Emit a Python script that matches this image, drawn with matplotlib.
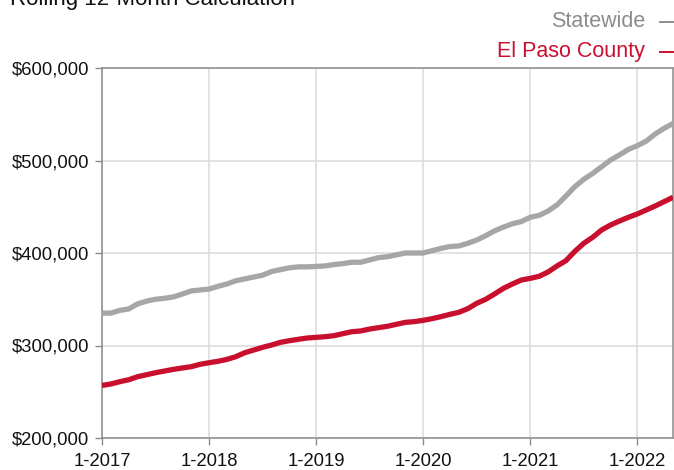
import matplotlib
matplotlib.use("Agg")
import matplotlib.pyplot as plt
from matplotlib.lines import Line2D
import numpy as np

plt.rcParams['font.family'] = ['Liberation Sans', 'DejaVu Sans']

# Monthly data, Jan 2017 .. May 2022 (rolling 12-month median sales price)
statewide = [335, 335, 338, 339.5, 345, 348, 350, 351, 352.5, 355.6, 359, 360,
             361, 364, 366.5, 370, 372, 374, 376, 380, 382, 384, 385, 385,
             385.5, 386, 387.5, 388.5, 390, 390, 392.5, 395, 396, 398, 400, 400,
             400, 402.5, 405, 407, 407.6, 410.5, 414, 418.7, 424, 428, 431.6, 434,
             438.6, 440.7, 445.4, 452, 461.6, 471.7, 479.7, 486, 493.3, 500.5, 506, 512,
             516, 521, 528.6, 534.8, 540]
el_paso = [256.8, 258.4, 260.9, 263, 266.3, 268.4, 270.6, 272.4, 274.2, 275.7, 277.1, 279.7,
           281.4, 282.9, 285, 287.9, 292.2, 295.1, 298, 300.5, 303.4, 305.2, 306.7, 308.1,
           308.8, 309.5, 310.6, 312.8, 314.9, 315.7, 317.8, 319.3, 320.8, 322.9, 325, 325.8,
           327.2, 329, 331.2, 333.7, 335.9, 339.8, 345.6, 349.9, 355.7, 361.8, 366.5, 370.8,
           372.6, 374.8, 379.5, 386, 391.7, 401.8, 410.5, 417, 424.9, 430.3, 434.6, 438.6,
           442.2, 446.5, 450.8, 455.5, 460.2]
x_tick_labels = ['1-2017', '1-2018', '1-2019', '1-2020', '1-2021', '1-2022']
y_ticks = [200000, 300000, 400000, 500000, 600000]
series_names = ['Statewide', 'El Paso County']

GRAY = '#a6a6a6'
RED = '#c8102e'
SPINE = '#8a8a8a'
GRID = '#dddddd'

fig = plt.figure(figsize=(6.74, 4.70), dpi=100)
W, H = 674, 470
ax = fig.add_axes([102 / W, 1 - 438 / H, (673 - 102) / W, (438 - 68) / H])

months = np.arange(len(statewide))
ax.plot(months, np.array(statewide) * 1000, color=GRAY, lw=3.8, solid_capstyle='butt', zorder=3)
ax.plot(months, np.array(el_paso) * 1000, color=RED, lw=3.8, solid_capstyle='butt', zorder=4)

ax.set_xlim(0, len(statewide) - 1)
ax.set_ylim(200000, 600000)
ax.set_xticks(np.arange(len(x_tick_labels)) * 12)
ax.set_xticklabels(x_tick_labels)
ax.set_yticks(y_ticks)
ax.set_yticklabels(['${:,.0f}'.format(v) for v in y_ticks])

ax.grid(True, color=GRID, lw=1.2, zorder=0)
ax.set_axisbelow(True)
for s in ax.spines.values():
    s.set_color(SPINE)
    s.set_linewidth(1.1)
ax.tick_params(axis='both', direction='out', length=5, width=1, color=SPINE,
               labelsize=13.3, labelcolor='#111111')
ax.tick_params(axis='y', pad=4)
ax.tick_params(axis='x', pad=6)

# Title (cropped at top in the reference)
fig.text(10 / W, 1 - 5 / H, 'Rolling 12-Month Calculation', fontsize=16,
         color='#111111', ha='left', va='baseline')

# Legend text at top right
fig.text(645 / W, 1 - 27 / H, series_names[0], fontsize=15.5, color='#8c8c8c',
         ha='right', va='baseline')
fig.text(645 / W, 1 - 57 / H, series_names[1], fontsize=15.5, color=RED,
         ha='right', va='baseline')
fig.add_artist(Line2D([660 / W, 1.02], [1 - 22 / H, 1 - 22 / H], color='#8c8c8c', lw=1.4,
                      transform=fig.transFigure))
fig.add_artist(Line2D([660 / W, 1.02], [1 - 52 / H, 1 - 52 / H], color=RED, lw=1.4,
                      transform=fig.transFigure))

fig.savefig('out.png', dpi=100)
